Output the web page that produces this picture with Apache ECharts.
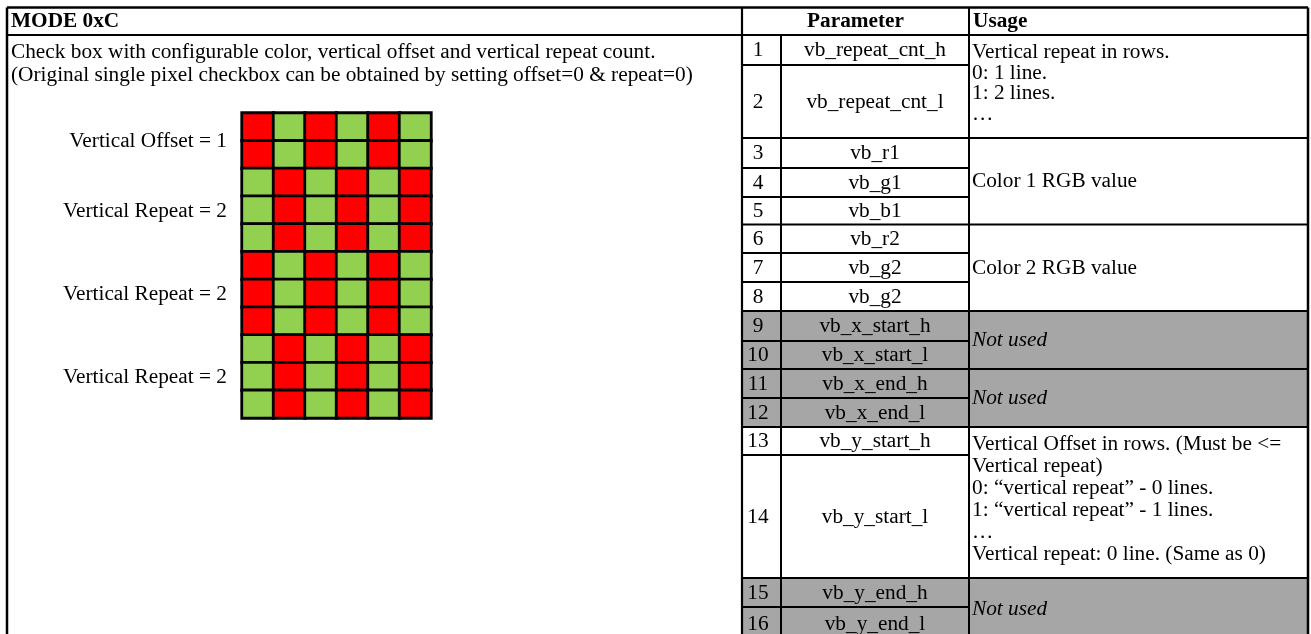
<!DOCTYPE html>
<html>
<head>
<meta charset="utf-8">
<script src="https://cdn.jsdelivr.net/npm/echarts@6/dist/echarts.min.js"></script>
<style>
html,body{margin:0;padding:0;background:#fff;}
#c{width:1311px;height:634px;}
</style>
</head>
<body>
<div id="c"></div>
<script>
// ---------------- DATA ----------------
const titleText = 'MODE 0xC';
const descLines = [
  'Check box with configurable color, vertical offset and vertical repeat count.',
  '(Original single pixel checkbox can be obtained by setting offset=0 & repeat=0)'
];
// checkerboard: R = colour 1 (red), G = colour 2 (green), top row first
const checkerRows = [
  'RGRGRG', 'RGRGRG',
  'GRGRGR', 'GRGRGR', 'GRGRGR',
  'RGRGRG', 'RGRGRG', 'RGRGRG',
  'GRGRGR', 'GRGRGR', 'GRGRGR'
];
const checkerLabels = ['Vertical Offset = 1', 'Vertical Repeat = 2', 'Vertical Repeat = 2', 'Vertical Repeat = 2'];
const checkerLabelRows = [[0, 1], [2, 4], [5, 7], [8, 10]];

const headerParameter = 'Parameter';
const headerUsage = 'Usage';
const paramNumbers = [1, 2, 3, 4, 5, 6, 7, 8, 9, 10, 11, 12, 13, 14, 15, 16];
const paramNames = [
  'vb_repeat_cnt_h', 'vb_repeat_cnt_l', 'vb_r1', 'vb_g1', 'vb_b1', 'vb_r2', 'vb_g2', 'vb_g2',
  'vb_x_start_h', 'vb_x_start_l', 'vb_x_end_h', 'vb_x_end_l', 'vb_y_start_h', 'vb_y_start_l',
  'vb_y_end_h', 'vb_y_end_l'
];
const unusedParams = [9, 10, 11, 12, 15, 16];
// usage cells: first row, last row, text lines
const usageFirstRow = [1, 3, 6, 9, 11, 13, 15];
const usageLastRow = [2, 5, 8, 10, 12, 14, 16];
const usageTexts = [
  ['Vertical repeat in rows.', '0: 1 line.', '1: 2 lines.', '\u2026'],
  ['Color 1 RGB value'],
  ['Color 2 RGB value'],
  ['Not used'],
  ['Not used'],
  ['Vertical Offset in rows. (Must be <=', 'Vertical repeat)', '0: \u201cvertical repeat\u201d - 0 lines.', '1: \u201cvertical repeat\u201d - 1 lines.', '\u2026', 'Vertical repeat: 0 line. (Same as 0)'],
  ['Not used']
];

// ---------------- LAYOUT / STYLE ----------------
const FONT_FAMILY = '"Liberation Serif", "Times New Roman", serif';
const FS = 21.3;
const RED = '#ff0000', GREEN = '#92d050', GRAY = '#a6a6a6';
const X0 = 7, X1 = 742, X2 = 781, X3 = 969, X4 = 1308;
const YT = 7.5, YH = 35, YB = 640;
const rowEdges = [35, 65, 138, 168, 197, 224.5, 253, 282, 311, 341, 369, 398, 427, 455, 578, 607, 640];

function font(bold, italic) {
  return (italic ? 'italic ' : '') + (bold ? 'bold ' : '') + FS + 'px ' + FONT_FAMILY;
}
function txt(text, x, y, align, opts) {
  opts = opts || {};
  return {
    type: 'text', x: x, y: y, silent: true, z: 10,
    style: {
      text: text, font: font(opts.bold, opts.italic), fill: '#000',
      align: align, textAlign: align, verticalAlign: 'middle', textVerticalAlign: 'middle'
    }
  };
}
function line(x1, y1, x2, y2, w) {
  return { type: 'line', silent: true, z: 8, shape: { x1: x1, y1: y1, x2: x2, y2: y2 },
    style: { stroke: '#000', lineWidth: w || 2 } };
}

// ---------------- CHART ----------------
const chart = echarts.init(document.getElementById('c'), null, { renderer: 'canvas' });

const heatData = [];
checkerRows.forEach(function (row, r) {
  row.split('').forEach(function (ch, c) {
    heatData.push([c, r, ch === 'R' ? 0 : 1]);
  });
});

chart.setOption({
  animation: false,
  backgroundColor: '#fff',
  grid: { left: 242, top: 113, width: 189, height: 305, containLabel: false },
  xAxis: { type: 'category', data: checkerRows[0].split('').map(function (_, i) { return i; }), show: false },
  yAxis: { type: 'category', data: checkerRows.map(function (_, i) { return i; }), inverse: true, show: false },
  visualMap: {
    type: 'piecewise', show: false, dimension: 2,
    pieces: [{ value: 0, color: RED }, { value: 1, color: GREEN }]
  },
  series: [{
    type: 'heatmap', data: heatData, silent: true,
    itemStyle: { borderColor: '#000', borderWidth: 2.8 },
    emphasis: { disabled: true }
  }]
});

// ---- graphic: frame, table, texts ----
const g = [];

// shaded rows (parameter part)
paramNumbers.forEach(function (n, i) {
  if (unusedParams.indexOf(n) >= 0) {
    g.push({ type: 'rect', silent: true, z: 5, shape: { x: X1, y: rowEdges[i], width: X3 - X1, height: rowEdges[i + 1] - rowEdges[i] }, style: { fill: GRAY } });
  }
});
// shaded usage cells
usageFirstRow.forEach(function (fr, k) {
  const lr = usageLastRow[k];
  let allUnused = true;
  for (let n = fr; n <= lr; n++) if (unusedParams.indexOf(n) < 0) allUnused = false;
  if (allUnused) {
    g.push({ type: 'rect', silent: true, z: 5, shape: { x: X3, y: rowEdges[fr - 1], width: X4 - X3, height: rowEdges[lr] - rowEdges[fr - 1] }, style: { fill: GRAY } });
  }
});

// frame
g.push(line(X0, YT, X4, YT, 2.5));
g.push(line(X0, YT, X0, YB, 2.5));
g.push(line(X4, YT, X4, YB, 2.5));
g.push(line(X0, YH, X4, YH, 2.2));
g.push(line(X1, YT, X1, YB, 2.2));
g.push(line(X3, YT, X3, YB, 2));
g.push(line(X2, YH, X2, YB, 2));
// parameter row lines
for (let i = 1; i < paramNumbers.length; i++) {
  g.push(line(X1, rowEdges[i], X3, rowEdges[i], 2));
}
// usage group lines
usageLastRow.forEach(function (lr) {
  if (lr < paramNumbers.length) g.push(line(X3, rowEdges[lr], X4, rowEdges[lr], 2));
});

// header texts
g.push(txt(titleText, 11, 21.5, 'left', { bold: true }));
g.push(txt(headerParameter, (X1 + X3) / 2, 21.5, 'center', { bold: true }));
g.push(txt(headerUsage, X3 + 4, 21.5, 'left', { bold: true }));

// description
descLines.forEach(function (s, i) {
  g.push(txt(s, 11, 52 + i * 23, 'left'));
});

// parameter rows
paramNumbers.forEach(function (n, i) {
  const yc = (rowEdges[i] + rowEdges[i + 1]) / 2 + 0.5;
  g.push(txt(String(n), 758, yc, 'center'));
  g.push(txt(paramNames[i], (X2 + X3) / 2, yc, 'center'));
});

// usage cells
usageTexts.forEach(function (lines, k) {
  const top = rowEdges[usageFirstRow[k] - 1];
  const bot = rowEdges[usageLastRow[k]];
  const italic = unusedParams.indexOf(usageFirstRow[k]) >= 0;
  if (lines.length === 1) {
    g.push(txt(lines[0], X3 + 3, (top + bot) / 2 + 0.5, 'left', { italic: italic }));
  } else {
    const step = lines.length > 4 ? 22 : 20.5;
    lines.forEach(function (s, j) {
      g.push(txt(s, X3 + 3, top + 17.5 + j * step, 'left'));
    });
  }
});

// checker labels positioned through the heatmap's axes
checkerLabels.forEach(function (s, k) {
  const a = chart.convertToPixel({ gridIndex: 0 }, [0, checkerLabelRows[k][0]]);
  const b = chart.convertToPixel({ gridIndex: 0 }, [0, checkerLabelRows[k][1]]);
  const halfBand = 189 / checkerRows[0].length / 2;
  const leftEdge = a[0] - halfBand;
  g.push(txt(s, leftEdge - 15, (a[1] + b[1]) / 2 + 1, 'right'));
});

chart.setOption({ graphic: { elements: g } });
</script>
</body>
</html>
